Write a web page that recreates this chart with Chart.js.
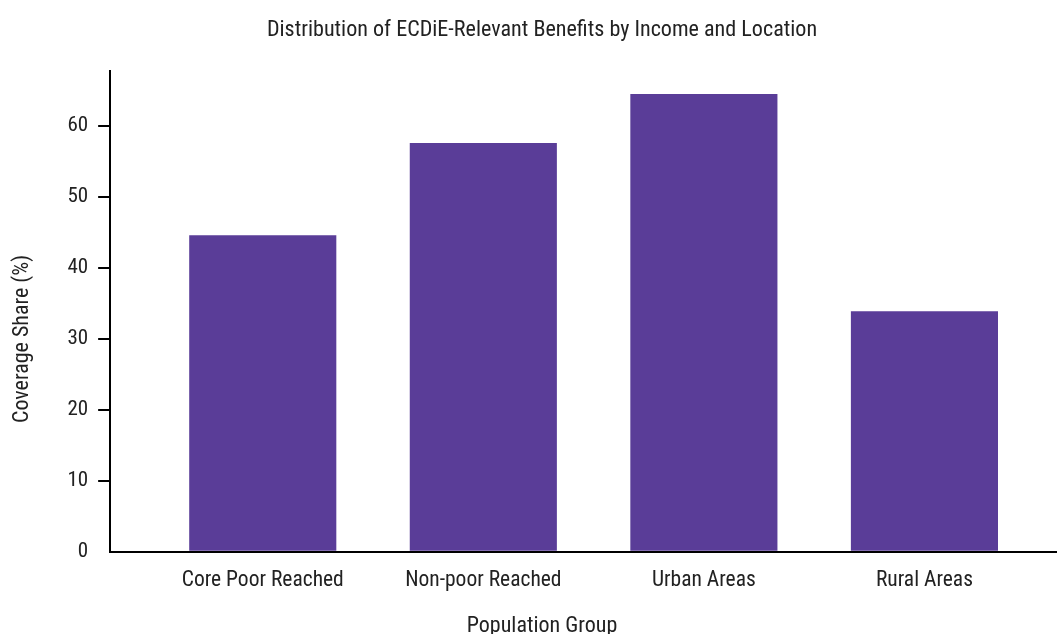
<!DOCTYPE html>
<html>
<head>
<meta charset="utf-8">
<script src="https://cdn.jsdelivr.net/npm/chart.js@4/dist/chart.umd.min.js"></script>
<style>
  html, body { margin: 0; padding: 0; background: #fff; }
  #wrap { width: 1057px; height: 634px; }
</style>
</head>
<body>
<div id="wrap"><canvas id="c" width="1057" height="634"></canvas></div>
<script>
const categories = ["Core Poor Reached", "Non-poor Reached", "Urban Areas", "Rural Areas"];
const coverageShare = [44.6, 57.6, 64.5, 33.9];
const yTickValues = [0, 10, 20, 30, 40, 50, 60];
const chartTitle = "Distribution of ECDiE-Relevant Benefits by Income and Location";
const xAxisTitle = "Population Group";
const yAxisTitle = "Coverage Share (%)";

const FONT = "'Liberation Sans Narrow', 'Roboto Condensed', 'DejaVu Sans Condensed', 'Liberation Sans', sans-serif";
Chart.defaults.font.family = FONT;
Chart.defaults.color = '#222';

// trailing non-breaking spaces nudge the rotated y title toward the bottom, as in the reference
const yTitlePad = '\u00A0'.repeat(11);

new Chart(document.getElementById('c'), {
  type: 'bar',
  data: {
    datasets: [{
      data: coverageShare.map((v, i) => ({ x: i, y: v })),
      backgroundColor: '#5a3d98',
      borderWidth: 0,
      barPercentage: 0.667,
      categoryPercentage: 1.0
    }]
  },
  options: {
    responsive: false,
    animation: false,
    devicePixelRatio: 1,
    layout: { padding: { left: 9, right: -18, top: 0, bottom: -6 } },
    plugins: {
      legend: { display: false },
      tooltip: { enabled: false },
      title: {
        display: true,
        text: chartTitle,
        font: { size: 22.1, weight: 'normal' },
        color: '#222',
        padding: { top: 17, bottom: 27 }
      },
      subtitle: {
        display: true,
        position: 'bottom',
        text: xAxisTitle,
        font: { size: 22, weight: 'normal' },
        color: '#222',
        padding: { top: 4, bottom: 0 }
      }
    },
    scales: {
      x: {
        type: 'linear',
        offset: false,
        min: -0.692,
        max: 3.601,
        afterBuildTicks: (axis) => { axis.ticks = categories.map((c, i) => ({ value: i })); },
        ticks: {
          callback: (v) => categories[v],
          font: { size: 21.5 },
          color: '#222',
          padding: 16,
          maxRotation: 0,
          autoSkip: false
        },
        grid: { display: false, drawTicks: false, tickLength: 0 },
        border: { display: true, color: '#000', width: 2 },
        title: { display: false }
      },
      y: {
        min: 0,
        max: 67.8,
        afterBuildTicks: (axis) => { axis.ticks = yTickValues.map(v => ({ value: v })); },
        ticks: {
          font: { size: 21 },
          color: '#222',
          padding: 10
        },
        grid: {
          display: true,
          drawOnChartArea: false,
          drawTicks: true,
          tickLength: 12,
          color: (ctx) => (ctx.tick && ctx.tick.value === 0) ? 'rgba(0,0,0,0)' : '#000',
          lineWidth: 2
        },
        border: { display: true, color: '#000', width: 2 },
        title: {
          display: true,
          text: yAxisTitle + yTitlePad,
          font: { size: 22 },
          color: '#222',
          padding: { top: 0, bottom: 22 }
        }
      }
    }
  }
});
</script>
</body>
</html>
